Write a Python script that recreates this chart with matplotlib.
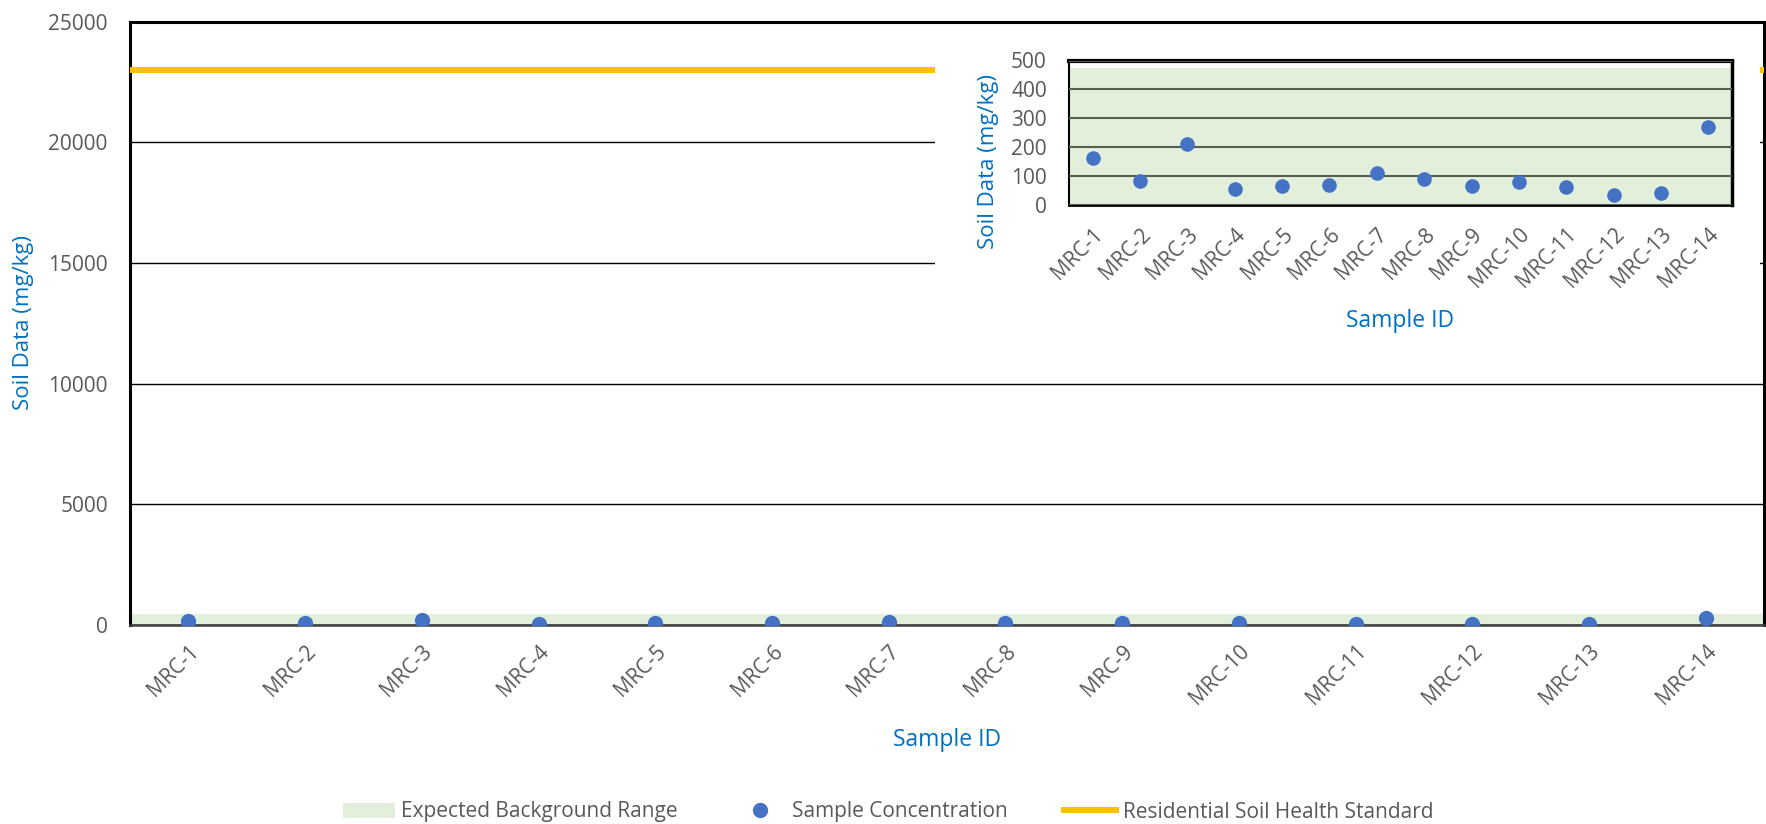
import matplotlib
matplotlib.use("Agg")
import matplotlib.pyplot as plt
from matplotlib.patches import Rectangle

plt.rcParams['font.family'] = ['Open Sans', 'DejaVu Sans']

# data
samples = ['MRC-1', 'MRC-2', 'MRC-3', 'MRC-4', 'MRC-5', 'MRC-6', 'MRC-7',
           'MRC-8', 'MRC-9', 'MRC-10', 'MRC-11', 'MRC-12', 'MRC-13', 'MRC-14']
concentration = [161, 83, 210, 57, 67, 68, 110, 90, 67, 80, 61, 33, 42, 270]
background_range = [0, 475]
health_standard = 23000
main_yticks = [0, 5000, 10000, 15000, 20000, 25000]
inset_yticks = [0, 100, 200, 300, 400, 500]

GREEN = '#E2EFDA'
BLUE = '#4472C4'
GOLD = '#FFC000'
TICK = '#595959'
LABEL = '#0070C0'

W, H = 1766, 824
fig = plt.figure(figsize=(W / 100, H / 100), dpi=100)


def fx(px):
    return px / W


def fy(py):
    return 1 - py / H


x = list(range(len(samples)))

# main chart
ax = fig.add_axes([fx(130), fy(625), fx(1764) - fx(130), fy(21.5) - fy(625)], zorder=0)
span = ax.axhspan(background_range[0], background_range[1], color=GREEN, lw=0,
                  label='Expected Background Range', zorder=1)
std = ax.axhline(health_standard, color=GOLD, lw=4.3, label='Residential Soil Health Standard', zorder=3)
pts, = ax.plot(x, concentration, 'o', color=BLUE, ms=11, mec='none',
               label='Sample Concentration', zorder=4)
ax.set_xlim(-0.5, len(samples) - 0.5)
ax.set_ylim(0, 25000)
ax.set_yticks(main_yticks)
ax.set_xticks(x)
ax.set_xticklabels(samples, rotation=45, ha='right', va='top', rotation_mode='anchor')
ax.tick_params(length=0, colors=TICK, labelsize=15)
ax.tick_params(axis='y', pad=16)
ax.tick_params(axis='x', pad=11.5)
ax.grid(axis='y', color='black', lw=1.0)
ax.set_axisbelow(False)
for s in ['left', 'top', 'right']:
    ax.spines[s].set_linewidth(2.2)
    ax.spines[s].set_color('black')
ax.spines['bottom'].set_color('#404040')
ax.spines['bottom'].set_linewidth(1.8)

fig.text(fx(24), fy(323), 'Soil Data (mg/kg)', rotation=90, ha='center', va='center',
         color=LABEL, fontsize=16)
fig.text(fx(947), fy(740), 'Sample ID', ha='center', va='center', color=LABEL, fontsize=16.5)

# white card behind the inset chart
fig.add_artist(Rectangle((fx(935), fy(345)), fx(1760) - fx(935), fy(25) - fy(345),
                         transform=fig.transFigure, facecolor='white', edgecolor='none', zorder=1))

# inset chart
ia = fig.add_axes([fx(1069), fy(205), fx(1732) - fx(1069), fy(60.5) - fy(205)], zorder=2)
ia.axhspan(background_range[0], background_range[1], color=GREEN, lw=0, zorder=1)
ia.plot(x, concentration, 'o', color=BLUE, ms=10.5, mec='none', zorder=4)
ia.set_xlim(-0.5, len(samples) - 0.5)
ia.set_ylim(0, 500)
ia.set_yticks(inset_yticks)
ia.set_xticks(x)
ia.set_xticklabels(samples, rotation=45, ha='right', va='top', rotation_mode='anchor')
ia.tick_params(length=0, colors=TICK, labelsize=15)
ia.tick_params(axis='y', pad=16)
ia.tick_params(axis='x', pad=13.5)
ia.grid(axis='y', color='#555f50', lw=1.5)
ia.set_axisbelow(False)
ia.spines['top'].set_linewidth(3)
ia.spines['right'].set_linewidth(2.5)
ia.spines['left'].set_linewidth(1.5)
ia.spines['bottom'].set_linewidth(2)

fig.text(fx(988.5), fy(161.5), 'Soil Data (mg/kg)', rotation=90, ha='center', va='center',
         color=LABEL, fontsize=16)
fig.text(fx(1400), fy(321), 'Sample ID', ha='center', va='center', color=LABEL, fontsize=16.5)

# legend
fig.legend(handles=[span, pts, std], loc='center', bbox_to_anchor=(fx(888), fy(812)),
           ncol=3, frameon=False, fontsize=15, labelcolor=TICK, handlelength=2.5,
           handletextpad=0.3, columnspacing=2.7, numpoints=1)

fig.savefig('out.png', dpi=100)
